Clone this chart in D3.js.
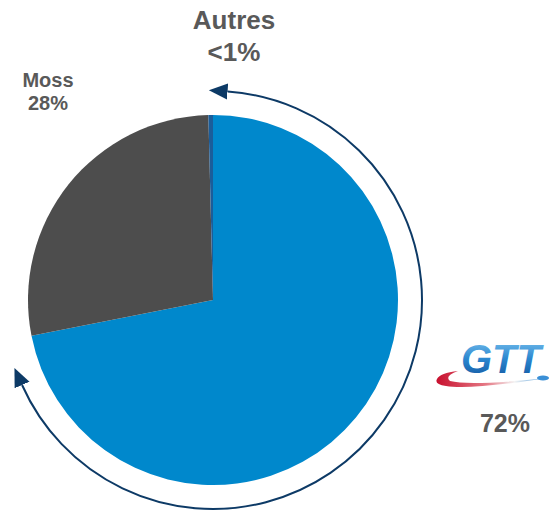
<!DOCTYPE html>
<html>
<head>
    <meta charset="utf-8">
    <title>GTT vs Moss</title>
    <script src="https://cdn.jsdelivr.net/npm/d3@7"></script>
    <style>
        body { margin: 0; background: #fff; }
        text { font-family: "Liberation Sans", Arial, sans-serif; font-weight: bold; fill: #595959; }
    </style>
</head>
<body>
    <svg width="554" height="511"></svg>
    <script>
        // chart data
        var categories = ["GTT", "Moss", "Autres"];
        var shares = [71.9, 27.7, 0.4];
        var shareLabels = ["72%", "28%", "<1%"];
        var sliceColors = ["#0088cc", "#4d4d4d", "#1b5d9a"];

        var svg = d3.select("svg");
        var cx = 213, cy = 300, radius = 185;

        var defs = svg.append("defs");
        defs.append("marker")
            .attr("id", "head")
            .attr("markerUnits", "userSpaceOnUse")
            .attr("markerWidth", 20).attr("markerHeight", 20)
            .attr("viewBox", "0 -8 16 16")
            .attr("refX", 0).attr("refY", 0)
            .attr("orient", "auto-start-reverse")
          .append("path")
            .attr("d", "M0,-6.5L15,0L0,6.5Z")
            .attr("fill", "#0d3a66");

        var pie = d3.pie().sort(null).value(function(d) { return d; });
        var arc = d3.arc().innerRadius(0).outerRadius(radius);

        var g = svg.append("g").attr("transform", "translate(" + cx + "," + cy + ")");
        g.selectAll("path")
            .data(pie(shares))
            .enter().append("path")
            .attr("d", arc)
            .attr("fill", function(d, i) { return sliceColors[i]; });

        // arrow round the GTT share
        var rad = Math.PI / 180;
        var p = d3.path();
        p.arc(cx, cy, 209, (-90 + 4) * rad, (-90 + 246) * rad, false);
        svg.append("path")
            .attr("d", p.toString())
            .attr("fill", "none")
            .attr("stroke", "#0d3a66")
            .attr("stroke-width", 2)
            .attr("marker-start", "url(#head)")
            .attr("marker-end", "url(#head)");

        // labels
        svg.append("text").attr("x", 234).attr("y", 29).attr("text-anchor", "middle")
            .style("font-size", "26px").text(categories[2]);
        svg.append("text").attr("x", 234).attr("y", 61).attr("text-anchor", "middle")
            .style("font-size", "26px").text(shareLabels[2]);
        svg.append("text").attr("x", 48).attr("y", 87).attr("text-anchor", "middle")
            .style("font-size", "20px").text(categories[1]);
        svg.append("text").attr("x", 48).attr("y", 110).attr("text-anchor", "middle")
            .style("font-size", "20px").text(shareLabels[1]);
        svg.append("text").attr("x", 505).attr("y", 432).attr("text-anchor", "middle")
            .style("font-size", "25px").text(shareLabels[0]);

        // GTT logo
        var lg = defs.append("linearGradient").attr("id", "gttFill")
            .attr("x1", 0).attr("y1", 0).attr("x2", 0).attr("y2", 1);
        lg.append("stop").attr("offset", "0%").attr("stop-color", "#7cc3ef");
        lg.append("stop").attr("offset", "50%").attr("stop-color", "#2a86cf");
        lg.append("stop").attr("offset", "100%").attr("stop-color", "#12539c");
        var sw = defs.append("linearGradient").attr("id", "swoosh")
            .attr("x1", 0).attr("y1", 0).attr("x2", 1).attr("y2", 0);
        sw.append("stop").attr("offset", "0%").attr("stop-color", "#c8102e");
        sw.append("stop").attr("offset", "45%").attr("stop-color", "#e57a86");
        sw.append("stop").attr("offset", "70%").attr("stop-color", "#f4f4f4");
        sw.append("stop").attr("offset", "100%").attr("stop-color", "#3a8fd6");

        svg.append("text").attr("x", 501).attr("y", 373).attr("text-anchor", "middle")
            .style("font-size", "40px").style("font-style", "italic")
            .style("fill", "url(#gttFill)").text(categories[0]);
        svg.append("path")
            .attr("d", "M437,379 Q440,373 458,371 Q444,376 450,381 Q470,386 548,378 Q470,390 446,386 Q434,384 437,379Z")
            .attr("fill", "url(#swoosh)");
        svg.append("ellipse").attr("cx", 543).attr("cy", 378).attr("rx", 6).attr("ry", 2.5)
            .attr("fill", "#3a8fd6");
    </script>
</body>
</html>
